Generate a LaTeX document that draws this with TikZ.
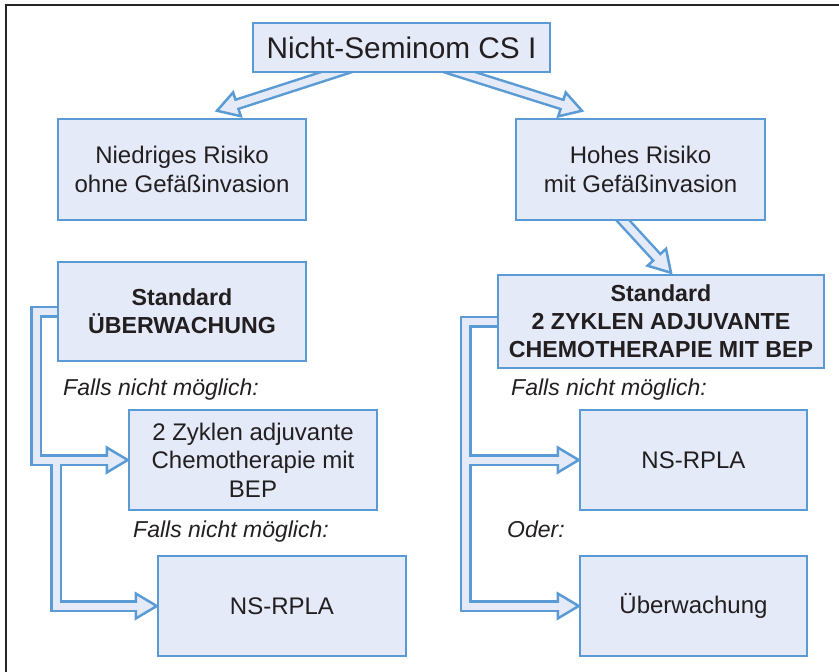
\documentclass[tikz,border=0pt]{standalone}
\usepackage{fontspec}
\setmainfont{Liberation Sans}
\usetikzlibrary{calc}
\definecolor{boxblue}{RGB}{91,155,213}
\definecolor{boxfill}{RGB}{228,234,247}
\definecolor{textgray}{RGB}{35,31,32}
\pgfdeclarelayer{shaftout}
\pgfdeclarelayer{heads}
\pgfdeclarelayer{shaftin}
\pgfsetlayers{shaftout,heads,shaftin,main}
\tikzset{
    % Boxes
    box/.style={draw=boxblue, fill=boxfill, line width=2.5pt, inner sep=0pt, align=center, text=textgray, minimum width=#1},
    box/.default=248pt,
    bold box/.style={box=#1, font=\fontsize{23.2}{28}\selectfont\bfseries},
    bold box/.default=248pt,
    label text/.style={anchor=base west, inner sep=0pt, text=textgray, font=\fontsize{23}{28}\selectfont\itshape},
    frame/.style={draw=black!85, line width=1.8pt},
    %
    % Arrows
    shaft out/.style={draw=boxblue, line width=12pt},
    shaft in/.style={draw=boxfill, line width=7pt},
    fat head/.style={draw=boxblue, fill=boxfill, line width=2.5pt, line join=miter},
}
% #1 shaft path up to the base of the head, #2 base, #3 tip
\newcommand\fatarrow[3]{%
    \begin{pgfonlayer}{shaftout}
        \draw[shaft out] #1;
    \end{pgfonlayer}
    \begin{pgfonlayer}{heads}
        \filldraw[fat head] (#3) -- ($(#2)!12.5pt!90:(#3)$) -- ($(#2)!12.5pt!-90:(#3)$) -- cycle;
    \end{pgfonlayer}
    \begin{pgfonlayer}{shaftin}
        \draw[shaft in] #1 -- ($(#2)!2pt!(#3)$);
    \end{pgfonlayer}
}

\begin{document}
\begin{tikzpicture}[x=1pt, y=-1pt, font=\fontsize{24}{28.5}\selectfont]
    \useasboundingbox (0,0) rectangle (839,672);
    \draw[frame] (6,672) -- (6,5) -- (839,5);
    % Boxes
    \node[box=297pt, minimum height=49pt, font=\fontsize{29.8}{34}\selectfont] (top) at (401.5,47.5) {Nicht-Seminom CS I};
    \node[box, minimum height=101pt] (low) at (182,169.5) {Niedriges Risiko\\ohne Gefäßinvasion};
    \node[box=249pt, minimum height=101pt] (high) at (640.5,169.5) {Hohes Risiko\\mit Gefäßinvasion};
    \node[bold box, minimum height=99pt] (watch) at (182,311.5) {Standard\\ÜBERWACHUNG};
    \node[bold box=326pt, minimum height=93pt] (chemo) at (661,321.5) {Standard\\2 ZYKLEN ADJUVANTE\\CHEMOTHERAPIE MIT BEP};
    \node[box, minimum height=100pt] (chemoalt) at (253,460) {2 Zyklen adjuvante\\Chemotherapie mit\\BEP};
    \node[box, minimum height=100pt] (rplaL) at (282,606) {NS-RPLA};
    \node[box=227pt, minimum height=100pt] (rplaR) at (693.5,460) {NS-RPLA};
    \node[box=227pt, minimum height=100pt] (watchR) at (693.5,606) {Überwachung};
    % Labels
    \node[label text] (ifnotL) at (63,395) {Falls nicht möglich:};
    \node[label text] (ifnotLL) at (133,537) {Falls nicht möglich:};
    \node[label text] (ifnotR) at (511,395.5) {Falls nicht möglich:};
    \node[label text] (orR) at (507,537) {Oder:};
    % Diagonal arrows
    \coordinate (lowfrom) at ($(top.south)+(-31.5,-12)$);
    \coordinate (lowtip) at ($(low.north)+(35,-7)$);
    \coordinate (lowbase) at ($(lowtip)!21pt!(lowfrom)$);
    \fatarrow{(lowfrom) -- (lowbase)}{lowbase}{lowtip}
    \coordinate (highfrom) at ($(top.south)+(23.5,-12)$);
    \coordinate (hightip) at ($(high.north)+(-58.5,-7)$);
    \coordinate (highbase) at ($(hightip)!21pt!(highfrom)$);
    \fatarrow{(highfrom) -- (highbase)}{highbase}{hightip}
    \coordinate (chemofrom) at ($(high.south)+(-30.5,-15)$);
    \coordinate (chemotip) at ($(chemo.north)+(10,-1)$);
    \coordinate (chemobase) at ($(chemotip)!21pt!(chemofrom)$);
    \fatarrow{(chemofrom) -- (chemobase)}{chemobase}{chemotip}
    % Left branches
    \coordinate (spineA) at ($(watch.west)+(-20.5,0)$);
    \coordinate (spineB) at ($(chemoalt.west)+(-71.5,0)$);
    \coordinate (chemoaltbase) at ($(chemoalt.west)+(-21,0)$);
    \coordinate (rplaLbase) at ($(rplaL.west)+(-21,0)$);
    \fatarrow{($(watch.west)+(5,0)$) -- (spineA) |- (chemoaltbase)}{chemoaltbase}{chemoalt.west}
    \fatarrow{(spineB) |- (rplaLbase)}{rplaLbase}{rplaL.west}
    % Right branches
    \coordinate (trunk) at ($(chemo.west)+(-31,0)$);
    \coordinate (rplaRbase) at ($(rplaR.west)+(-21,0)$);
    \coordinate (watchRbase) at ($(watchR.west)+(-21,0)$);
    \fatarrow{($(chemo.west)+(5,0)$) -- (trunk) |- (watchRbase)}{watchRbase}{watchR.west}
    \fatarrow{(rplaR.west -| trunk) -- (rplaRbase)}{rplaRbase}{rplaR.west}
\end{tikzpicture}
\end{document}
